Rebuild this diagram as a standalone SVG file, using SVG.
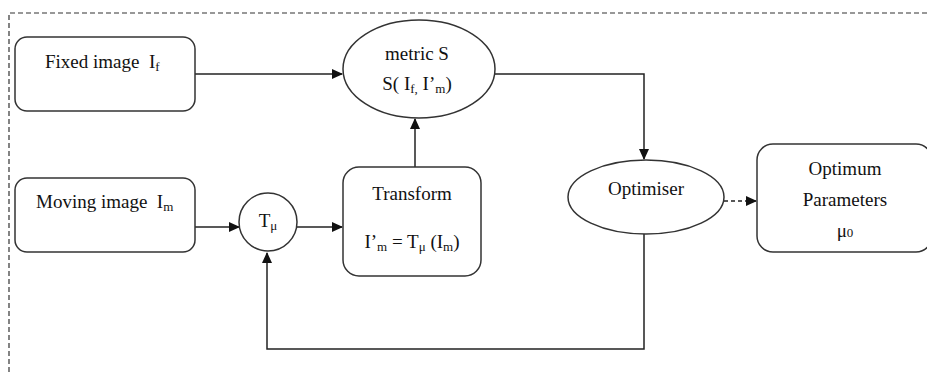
<svg xmlns="http://www.w3.org/2000/svg" width="927" height="372" viewBox="0 0 927 372">
<defs>
<style>
text{font-family:"Liberation Serif","Times New Roman",serif;font-size:19px;fill:#111}
.sub{font-size:13px}
.node{fill:#fff;stroke:#333;stroke-width:1.5}
.conn{fill:none;stroke:#222;stroke-width:1.5}
.dash{stroke-dasharray:4 3}
</style>
<marker id="ah" markerWidth="11" markerHeight="10" refX="10" refY="5" orient="auto" markerUnits="userSpaceOnUse">
<path d="M0,0 L11,5 L0,10 Z" fill="#111"/>
</marker>
</defs>
<rect width="927" height="372" fill="#fff"/>
<path d="M9,380 L9,13 L930,13" fill="none" stroke="#333" stroke-width="1.2" stroke-dasharray="5 3"/>

<g id="connectors">
<path class="conn" d="M195,74 L342,74" marker-end="url(#ah)"/>
<path class="conn" d="M495,74 L644,74 L644,159" marker-end="url(#ah)"/>
<path class="conn dash" d="M724,201 L756,201" marker-end="url(#ah)"/>
<path class="conn" d="M644,234 L644,349 L267,349 L267,253" marker-end="url(#ah)"/>
<path class="conn" d="M195,227 L239,227" marker-end="url(#ah)"/>
<path class="conn" d="M297,227 L342,227" marker-end="url(#ah)"/>
<path class="conn" d="M415,167 L415,119" marker-end="url(#ah)"/>
</g>

<g id="fixed">
<rect class="node" x="15" y="37" width="180" height="74" rx="12"/>
<text x="45" y="68">Fixed image&#160;&#160;I<tspan class="sub" dy="3">f</tspan></text>
</g>

<g id="metric">
<ellipse class="node" cx="419" cy="69" rx="76" ry="49"/>
<text x="417" y="60" text-anchor="middle">metric S</text>
<text x="417" y="90" text-anchor="middle">S( I<tspan class="sub" dy="3">f,</tspan><tspan dy="-3"> I’</tspan><tspan class="sub" dy="3">m</tspan><tspan dy="-3">)</tspan></text>
</g>

<g id="moving">
<rect class="node" x="15" y="178" width="180" height="74" rx="12"/>
<text x="36" y="208">Moving image&#160;&#160;I<tspan class="sub" dy="3">m</tspan></text>
</g>

<g id="tmu">
<circle class="node" cx="268" cy="222" r="29"/>
<text x="268" y="227" text-anchor="middle">T<tspan class="sub" dy="3">μ</tspan></text>
</g>

<g id="transform">
<rect class="node" x="343" y="167" width="138" height="109" rx="16"/>
<text x="412" y="200" text-anchor="middle">Transform</text>
<text x="412" y="248" text-anchor="middle">I’<tspan class="sub" dy="3">m</tspan><tspan dy="-3"> = T</tspan><tspan class="sub" dy="3">μ</tspan><tspan dy="-3"> (I</tspan><tspan class="sub" dy="3">m</tspan><tspan dy="-3">)</tspan></text>
</g>

<g id="optimiser">
<ellipse class="node" cx="646" cy="197" rx="78" ry="37"/>
<text x="646" y="195" text-anchor="middle">Optimiser</text>
</g>

<g id="optimum">
<rect class="node" x="757" y="144" width="175" height="108" rx="16"/>
<text x="845" y="175" text-anchor="middle">Optimum</text>
<text x="845" y="206" text-anchor="middle">Parameters</text>
<text x="845" y="237" text-anchor="middle">μ<tspan class="sub">0</tspan></text>
</g>
</svg>
